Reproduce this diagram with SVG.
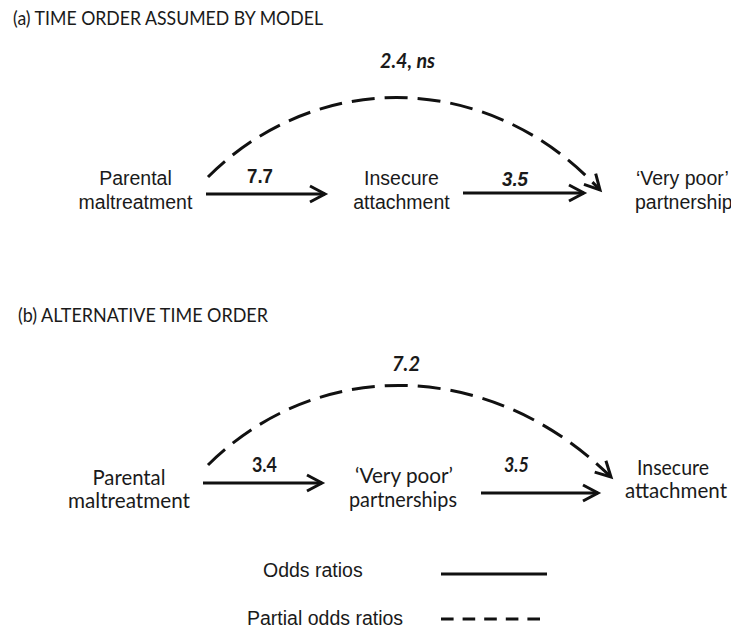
<svg xmlns="http://www.w3.org/2000/svg" width="731" height="629" viewBox="0 0 731 629">
<defs>
<style>
.ar{font-family:"Liberation Sans",Arial,sans-serif;font-size:19.5px;fill:#1a1a1a}
.cal{font-family:Lato,"Open Sans",sans-serif;fill:#1a1a1a}
.ttl{font-size:19px}
.lab{font-size:21px}
.b{font-weight:bold}
.i{font-style:italic}
.mid{text-anchor:middle}
.solid{fill:none;stroke:#111;stroke-width:3}
.dash{fill:none;stroke:#111;stroke-width:3;stroke-dasharray:23 10}
.ldash{fill:none;stroke:#111;stroke-width:3;stroke-dasharray:12.6 9}
</style>
<marker id="head" viewBox="-20 -12 26 24" refX="0" refY="0" markerWidth="26" markerHeight="24" markerUnits="userSpaceOnUse" orient="auto">
<path d="M-15,-8 L0,0 L-15,8" fill="none" stroke="#111" stroke-width="3"/>
</marker>
</defs>
<rect width="731" height="629" fill="#fff"/>

<g id="titles">
<text class="cal ttl" x="13" y="25" textLength="310" lengthAdjust="spacingAndGlyphs">(a)  TIME ORDER ASSUMED BY MODEL</text>
<text class="cal ttl" x="18" y="322" textLength="250" lengthAdjust="spacingAndGlyphs">(b)  ALTERNATIVE TIME ORDER</text>
</g>

<g id="a-maltreatment">
<text class="ar mid" x="135.5" y="185">Parental</text>
<text class="ar mid" x="135.5" y="209">maltreatment</text>
</g>
<g id="a-attachment">
<text class="ar mid" x="401.5" y="185">Insecure</text>
<text class="ar mid" x="401.5" y="209">attachment</text>
</g>
<g id="a-partnership">
<text class="ar" x="636" y="185">‘Very poor’</text>
<text class="ar" x="635" y="209">partnership</text>
</g>

<g id="b-maltreatment">
<text class="cal lab mid" x="129" y="485" textLength="73" lengthAdjust="spacingAndGlyphs">Parental</text>
<text class="cal lab mid" x="129" y="508" textLength="122" lengthAdjust="spacingAndGlyphs">maltreatment</text>
</g>
<g id="b-partnerships">
<text class="cal lab mid" x="404" y="483" textLength="98" lengthAdjust="spacingAndGlyphs">‘Very poor’</text>
<text class="cal lab mid" x="403" y="507" textLength="108" lengthAdjust="spacingAndGlyphs">partnerships</text>
</g>
<g id="b-attachment">
<text class="cal lab mid" x="673" y="475" textLength="72" lengthAdjust="spacingAndGlyphs">Insecure</text>
<text class="cal lab mid" x="676" y="498" textLength="102" lengthAdjust="spacingAndGlyphs">attachment</text>
</g>

<g id="connectors">
<line class="solid" x1="206" y1="194" x2="325" y2="194" marker-end="url(#head)"/>
<line class="solid" x1="463" y1="193" x2="584" y2="193" marker-end="url(#head)"/>
<path class="dash" d="M208,177 C316,69 488,69 600,190" marker-end="url(#head)"/>
<line class="solid" x1="203" y1="483" x2="322" y2="483" marker-end="url(#head)"/>
<line class="solid" x1="481" y1="493" x2="598" y2="493" marker-end="url(#head)"/>
<path class="dash" d="M208,465 C317,357 489,357 611,477" marker-end="url(#head)"/>
</g>

<g id="edge-labels">
<text class="ar b" x="247" y="183" font-size="19" textLength="26" lengthAdjust="spacingAndGlyphs">7.7</text>
<text class="ar b i" x="502" y="186" font-size="19" textLength="26" lengthAdjust="spacingAndGlyphs">3.5</text>
<text class="cal b i" x="380" y="68" font-size="20" textLength="55" lengthAdjust="spacingAndGlyphs">2.4, ns</text>
<text class="cal b" x="252" y="472" font-size="20" textLength="25" lengthAdjust="spacingAndGlyphs">3.4</text>
<text class="cal b i" x="504" y="472" font-size="20" textLength="25" lengthAdjust="spacingAndGlyphs">3.5</text>
<text class="cal b i" x="392" y="371" font-size="21" textLength="28" lengthAdjust="spacingAndGlyphs">7.2</text>
</g>

<g id="legend">
<text class="ar" x="263" y="577" font-size="20">Odds ratios</text>
<line class="solid" x1="441" y1="574" x2="547" y2="574"/>
<text class="ar" x="247" y="625" font-size="20">Partial odds ratios</text>
<line class="ldash" x1="441" y1="619" x2="540" y2="619"/>
</g>
</svg>
